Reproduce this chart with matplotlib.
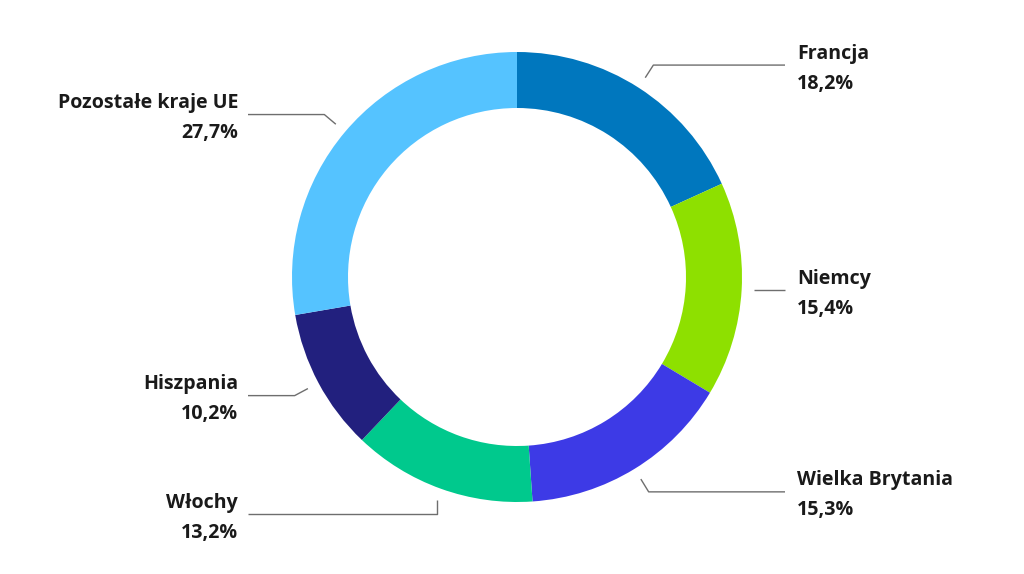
import numpy as np
import matplotlib.pyplot as plt

# udział w eksporcie wg kraju
countries = ['Francja', 'Niemcy', 'Wielka Brytania', 'Włochy', 'Hiszpania', 'Pozostałe kraje UE']
shares = [18.2, 15.4, 15.3, 13.2, 10.2, 27.7]
colors = ['#0077be', '#8ee000', '#3d3ae6', '#00c98d', '#22207e', '#55c3ff']

W, H = 1024, 574
fig = plt.figure(figsize=(W / 100, H / 100), dpi=100)
ax = fig.add_axes([0, 0, 1, 1])

# pracujemy w pikselach, os y do gory
cx, cy = 517, H - 277
R = 225
ring = 56

ax.pie(shares, colors=colors, startangle=90, counterclock=False,
       radius=R, center=(cx, cy), frame=True,
       wedgeprops=dict(width=ring, linewidth=0))

ax.set_xlim(0, W)
ax.set_ylim(0, H)
ax.set_aspect('equal')
ax.axis('off')

font = dict(family=['Open Sans', 'DejaVu Sans'], weight='bold',
            fontsize=14.1, color='#1a1a1a')

# linie odnosnikow liczone od srodka kazdego wycinka
start = 0.0
for name, val in zip(countries, shares):
    mid = np.radians((start + val / 2) * 3.6)  # kat od gory, zgodnie z zegarem
    start += val
    sx, sy = np.sin(mid), np.cos(mid)
    x0, y0 = cx + 237 * sx, cy + 237 * sy
    x1, y1 = cx + 252 * sx, cy + 252 * sy
    right = sx > 0
    if abs(sy) < 0.1:
        y1 = y0
        x1 = x0
    elif abs(sx) < 0.4:
        x1 = x0
    xend = 785 if right else 248
    ax.plot([x0, x1, xend], [y0, y1, y1], color='#6e6e6e', lw=1, solid_capstyle='butt')
    tx = 797 if right else 238
    ha = 'left' if right else 'right'
    ax.text(tx, y1 + 11.5, name, ha=ha, va='center', **font)
    ax.text(tx, y1 - 18.5, f'{val:.1f}%'.replace('.', ','), ha=ha, va='center', **font)

fig.savefig('out.png', dpi=100, facecolor='white')
